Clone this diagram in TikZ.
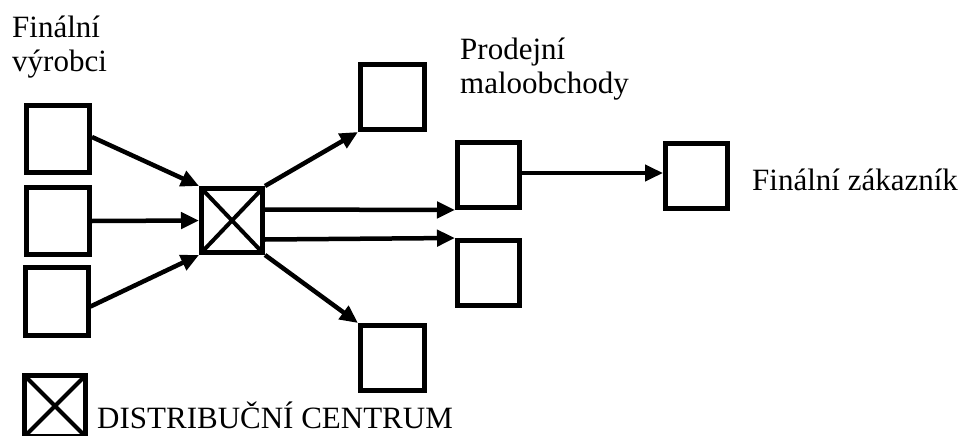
\documentclass[tikz,border=0pt]{standalone}
\usepackage{fontspec}
\setmainfont{Liberation Serif}
\newfontfamily\tnrfont{Liberation Serif}
\usetikzlibrary{arrows.meta,calc}
\begin{document}
\begin{tikzpicture}[x=1pt,y=-1pt,
  box/.style={draw,line width=5pt,inner sep=0pt,minimum width=63pt,minimum height=65pt},
  dcbox/.style={box,minimum width=61pt,minimum height=64pt,
    path picture={\draw[line width=4pt] (path picture bounding box.north west) -- (path picture bounding box.south east)
      (path picture bounding box.north east) -- (path picture bounding box.south west);}},
  lbl/.style={inner sep=0pt,font=\tnrfont\fontsize{31}{34}\selectfont},
  arr/.style={line width=4.5pt,-{Triangle[length=18pt,width=16pt]}},
  arrthin/.style={line width=4pt,-{Triangle[length=18pt,width=16pt]}}]
\useasboundingbox (0,0) rectangle (969,436);
\clip (0,0) rectangle (969,436);
% nodes
\node[box,minimum height=67pt] (b1) at (58,139) {};
\node[box,minimum height=67pt] (b2) at (58,221) {};
\node[box,minimum height=68pt] (b3) at (56.5,301.5) {};
\node[dcbox] (dc) at (232,220.5) {};
\node[box,minimum width=64pt] (t) at (392.5,97) {};
\node[box,minimum width=64pt] (bt) at (392.5,358) {};
\node[box,minimum width=62pt] (m1) at (488.5,175) {};
\node[box,minimum width=62pt] (m2) at (488.5,273) {};
\node[box,minimum width=62pt] (f) at (696.5,176) {};
\node[dcbox,minimum width=61pt,minimum height=61pt] (leg) at (55,406) {};
% labels
\node[lbl,anchor=base west,align=left] (lv) at (12,72) {Finální\\výrobci};
\node[lbl,anchor=base west,align=left] (lp) at (460,93) {Prodejní\\maloobchody};
\node[lbl,anchor=base west] (lf) at (752,190) {Finální zákazník};
\node[lbl,anchor=base west] (ld) at (97,428) {DISTRIBUČNÍ CENTRUM};
% connectors
\draw[arr] ($(b1.east)+(0,-2)$) -- (dc.north west);
\draw[arr] (b2.east) -- (dc.west);
\draw[arr] ($(b3.east)+(0,5)$) -- (dc.south west);
\draw[arr] (dc.north east) -- (t.south west);
\draw[arr] ($(dc.east)+(0,-11)$) -- (m1.south west);
\draw[arr] ($(dc.east)+(0,19)$) -- (m2.north west);
\draw[arr] (dc.south east) -- (bt.north west);
\draw[arrthin] ($(m1.east)+(0,-2)$) -- ($(f.west)+(0,-3)$);
\end{tikzpicture}
\end{document}
